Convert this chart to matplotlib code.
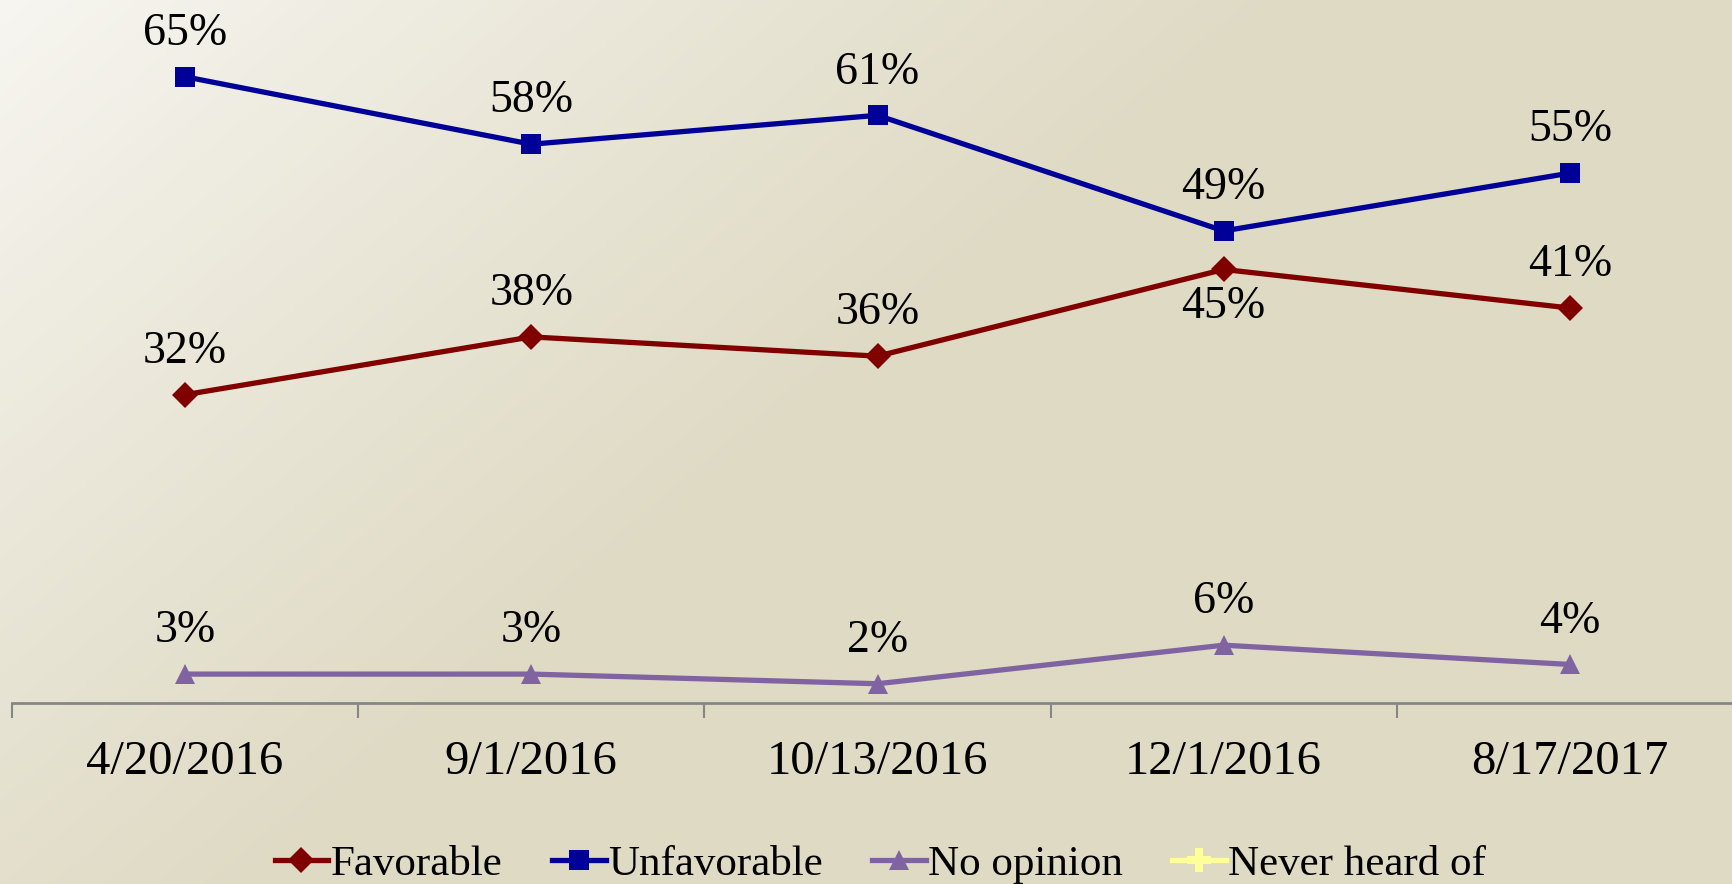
import numpy as np
import matplotlib
matplotlib.use("Agg")
import matplotlib.pyplot as plt

# ---- data ----
dates = ["4/20/2016", "9/1/2016", "10/13/2016", "12/1/2016", "8/17/2017"]
favorable = [32, 38, 36, 45, 41]
unfavorable = [65, 58, 61, 49, 55]
no_opinion = [3, 3, 2, 6, 4]
never_heard = [None, None, None, None, None]
series_names = ["Favorable", "Unfavorable", "No opinion", "Never heard of"]

W, H = 1733, 884
plt.rcParams['font.family'] = ['Liberation Serif', 'DejaVu Serif']

fig = plt.figure(figsize=(W / 100, H / 100), dpi=100)

# background gradient
bg = fig.add_axes([0, 0, 1, 1], zorder=-10)
xx, yy = np.meshgrid(np.arange(W), np.arange(H))
t = np.clip(xx / 1300 + yy / 1100, 0, 1) ** 0.9
c0 = np.array([0xF7, 0xF6, 0xF1]) / 255
c1 = np.array([0xDF, 0xDA, 0xC4]) / 255
img = c0[None, None, :] * (1 - t[..., None]) + c1[None, None, :] * t[..., None]
bg.imshow(img, aspect='auto', extent=[0, 1, 0, 1], origin='upper')
bg.axis('off')

ax_left = 12 / W
ax_w = 1731 / W
ax_bottom = (H - 703) / H
ax_top = (H - 28.6) / H
ax = fig.add_axes([ax_left, ax_bottom, ax_w, ax_top - ax_bottom])
ax.patch.set_alpha(0)

x = np.arange(len(dates))
styles = [
    (favorable, "#800000", "D", 13),
    (unfavorable, "#000099", "s", 15),
    (no_opinion, "#8064A2", "^", 15),
]
for (vals, col, mk, ms), name in zip(styles, series_names[:3]):
    ax.plot(x, vals, color=col, lw=3.8, marker=mk, markersize=ms, label=name,
            markeredgewidth=0, clip_on=False, zorder=3)

nh = np.array([np.nan if v is None else v for v in never_heard], dtype=float)
ax.plot(x, nh, color="#FFFF99", lw=3.8, marker="P", markersize=17,
        markeredgewidth=0, label=series_names[3])

def lab(vals, below_idx=()):
    for i, v in enumerate(vals):
        off = -27 if i in below_idx else 31
        ax.annotate(f"{v}%", (x[i], v), xytext=(0, off), textcoords='offset points',
                    ha='center', va='center', fontsize=33, color='black', zorder=5)

lab(unfavorable)
lab(favorable, below_idx=(3,))
lab(no_opinion)

ax.set_xlim(-0.5, len(dates) - 0.5)
ax.set_ylim(0, 70)
for s in ['left', 'right', 'top']:
    ax.spines[s].set_visible(False)
ax.spines['bottom'].set_color('#868686')
ax.spines['bottom'].set_linewidth(2)
ax.set_yticks([])
ax.set_xticks(x)
ax.set_xticklabels(dates, fontsize=35)
ax.tick_params(axis='x', which='major', length=0, pad=27)
ax.set_xticks(np.arange(-0.5, len(dates), 1.0), minor=True)
ax.tick_params(axis='x', which='minor', length=11, width=1.5, color='#868686', direction='out')

handles, labels = ax.get_legend_handles_labels()
leg = fig.legend(handles, labels, loc='center', bbox_to_anchor=(0.508, 0.022), ncol=4,
                 frameon=False, fontsize=31, handlelength=1.25, handletextpad=0.05,
                 columnspacing=1.15, borderaxespad=0)

fig.savefig("out.png", dpi=100)
